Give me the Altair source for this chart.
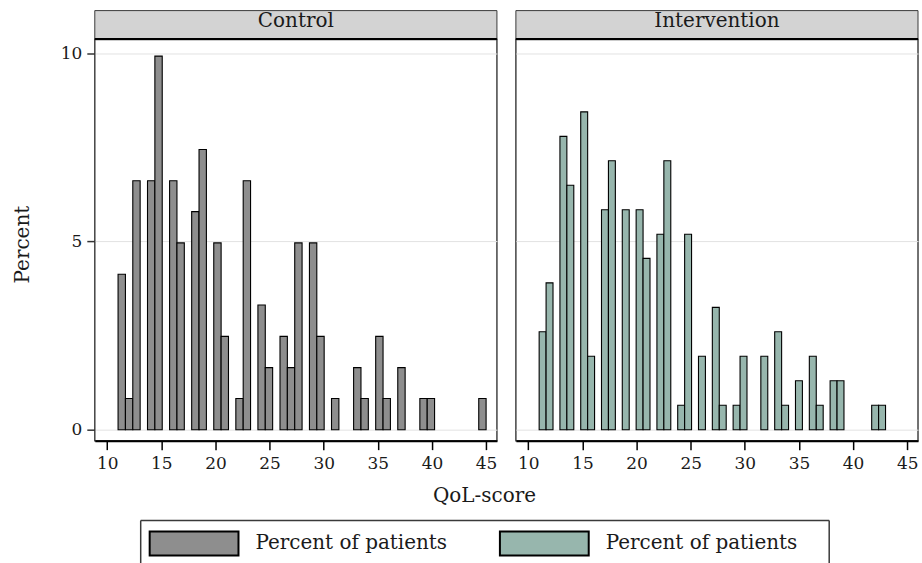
import math

import altair as alt
import pandas as pd

# ---- data -----------------------------------------------------------------
GROUPS = ["Control", "Intervention"]
BAR_COLORS = ["#8e8e8e", "#97b6ad"]

# Percent of patients at each QoL-score
control_score = [11, 12, 13, 14, 15, 16, 17, 18, 19, 20, 21, 22, 23, 24, 25,
                 26, 27, 28, 29, 30, 31, 33, 34, 35, 36, 37, 39, 40, 45]
control_pct = [4.13, 0.83, 6.61, 6.61, 9.92, 6.61, 4.96, 5.79, 7.44, 4.96,
               2.48, 0.83, 6.61, 3.31, 1.65, 2.48, 1.65, 4.96, 4.96, 2.48,
               0.83, 1.65, 0.83, 2.48, 0.83, 1.65, 0.83, 0.83, 0.83]

intervention_score = [11, 12, 13, 14, 15, 16, 17, 18, 19, 20, 21, 22, 23, 24,
                      25, 26, 27, 28, 29, 30, 32, 33, 34, 35, 36, 37, 38, 39,
                      42, 43]
intervention_pct = [2.60, 3.90, 7.79, 6.49, 8.44, 1.95, 5.84, 7.14, 5.84, 5.84,
                    4.55, 5.19, 7.14, 0.65, 5.19, 1.95, 3.25, 0.65, 0.65, 1.95,
                    1.95, 2.60, 0.65, 1.30, 1.95, 0.65, 1.30, 1.30, 0.65, 0.65]

x_ticks = [10, 15, 20, 25, 30, 35, 40, 45]
y_ticks = [0, 5, 10]
N_BINS = 50
LEGEND_LABEL = "Percent of patients"

# ---- styling ----------------------------------------------------------------
FONT = "DejaVu Serif"
INK = "#1a1a1a"
W, H = 403, 402
HEAD = 29
X_DOMAIN = [8.85, 46.0]
Y_DOMAIN = [-0.29, 10.36]

# Legend swatch: a wide 89x24 box drawn with a custom path on a 24px symbol slot
SWATCH_W, SWATCH_H = 89, 24
SLOT = SWATCH_H
half_w = SWATCH_W / SLOT
SWATCH_PATH = f"M{-half_w:.4f},-1H{half_w:.4f}V1H{-half_w:.4f}Z"
OVERHANG = (SWATCH_W - SLOT) / 2


def histogram_table(group, scores, pcts):
    """Put every score into one of N_BINS equal bins spanning the group's range."""
    lo, hi = min(scores), max(scores)
    width = (hi - lo) / N_BINS
    rows = []
    for s, p in zip(scores, pcts):
        k = min(math.floor((s - lo) / width), N_BINS - 1)
        rows.append({"group": group, "score": s, "pct": p,
                     "bin_lo": lo + k * width, "bin_hi": lo + (k + 1) * width})
    return pd.DataFrame(rows)


legend = alt.Legend(
    orient="none", legendX=45 + OVERHANG, legendY=483,
    direction="horizontal", columns=2,
    title=None, labelExpr=f"'{LEGEND_LABEL}'", labelLimit=400,
    symbolType=SWATCH_PATH, symbolSize=SLOT * SLOT,
    symbolStrokeColor="black", symbolStrokeWidth=2, symbolOpacity=1,
    labelFont=FONT, labelFontSize=20, labelColor=INK,
    labelOffset=16 + OVERHANG, columnPadding=48, padding=9,
)


def panel(group, scores, pcts, first):
    df = histogram_table(group, scores, pcts)

    x_axis_opts = dict(values=x_ticks, grid=False, domainColor="black",
                       domainWidth=2, tickColor="black", tickWidth=1.5,
                       tickSize=9, labelPadding=6, labelFont=FONT,
                       labelFontSize=17, labelColor=INK, labelFlush=False)
    if first:
        x_axis_opts.update(title="QoL-score", titleFont=FONT, titleFontSize=20,
                           titleFontWeight="normal", titleColor=INK,
                           titleX=390, titleY=61, titleAlign="center",
                           titleBaseline="alphabetic", titleAnchor="start")
    else:
        x_axis_opts.update(title=None)

    if first:
        y_axis = alt.Axis(values=y_ticks, grid=True, gridColor="#e2e2e2",
                          domain=False, tickColor="#333", tickWidth=1.5,
                          tickSize=8, labelPadding=5, labelFont=FONT,
                          labelFontSize=17, labelColor=INK,
                          title="Percent", titleFont=FONT, titleFontSize=20,
                          titleFontWeight="normal", titleColor=INK,
                          titleX=-66, titleY=205, titleAngle=270,
                          titleAlign="center", titleBaseline="alphabetic")
    else:
        y_axis = alt.Axis(values=y_ticks, grid=True, gridColor="#e2e2e2",
                          domain=False, ticks=False, labels=False, title=None)

    bars = alt.Chart(df).mark_rect(stroke="black", strokeWidth=1.1).encode(
        x=alt.X("bin_lo:Q", scale=alt.Scale(domain=X_DOMAIN, nice=False, zero=False),
                axis=alt.Axis(**x_axis_opts)),
        x2="bin_hi:Q",
        y=alt.Y("pct:Q", scale=alt.Scale(domain=Y_DOMAIN, nice=False, zero=False),
                axis=y_axis),
        y2=alt.datum(0),
        color=alt.Color("group:N", scale=alt.Scale(domain=GROUPS, range=BAR_COLORS),
                        legend=legend),
    )

    head_df = pd.DataFrame({"group": [group]})
    head_box = alt.Chart(head_df).mark_rect(
        fill="#d3d3d3", stroke="#3a3a3a", strokeWidth=1
    ).encode(x=alt.value(0), x2=alt.value(W), y=alt.value(-HEAD), y2=alt.value(0))
    head_line = alt.Chart(head_df).mark_rule(color="black", strokeWidth=2).encode(
        x=alt.value(0), x2=alt.value(W), y=alt.value(-0.5))
    head_text = alt.Chart(head_df).mark_text(
        font=FONT, fontSize=20, color=INK, baseline="alphabetic", align="center"
    ).encode(text="group:N", x=alt.value(W / 2), y=alt.value(-12.5))

    layers = [bars, head_box, head_line, head_text]

    if first:
        # frame around the legend (its lower edge falls outside the page)
        frame = pd.DataFrame({"group": [group]})
        fx0, fx1, fy0, fy1 = 46, 736, 482, 526
        frame_style = dict(color="#3a3a3a", strokeWidth=1.5)
        layers += [
            alt.Chart(frame).mark_rule(**frame_style).encode(
                x=alt.value(fx0), x2=alt.value(fx1), y=alt.value(fy0)),
            alt.Chart(frame).mark_rule(**frame_style).encode(
                x=alt.value(fx0), y=alt.value(fy0), y2=alt.value(fy1)),
            alt.Chart(frame).mark_rule(**frame_style).encode(
                x=alt.value(fx1), y=alt.value(fy0), y2=alt.value(fy1)),
        ]

    return alt.layer(*layers).properties(width=W, height=H)


left = panel(GROUPS[0], control_score, control_pct, True)
right = panel(GROUPS[1], intervention_score, intervention_pct, False)

chart = (
    alt.hconcat(left, right, spacing=19, bounds="flush")
    .properties(padding={"left": 12, "top": 8, "right": 2, "bottom": 0},
                background="white")
    .configure_view(stroke="#444", strokeWidth=1.5)
)

chart.save("out.html", embed_options={"renderer": "svg", "actions": False})
